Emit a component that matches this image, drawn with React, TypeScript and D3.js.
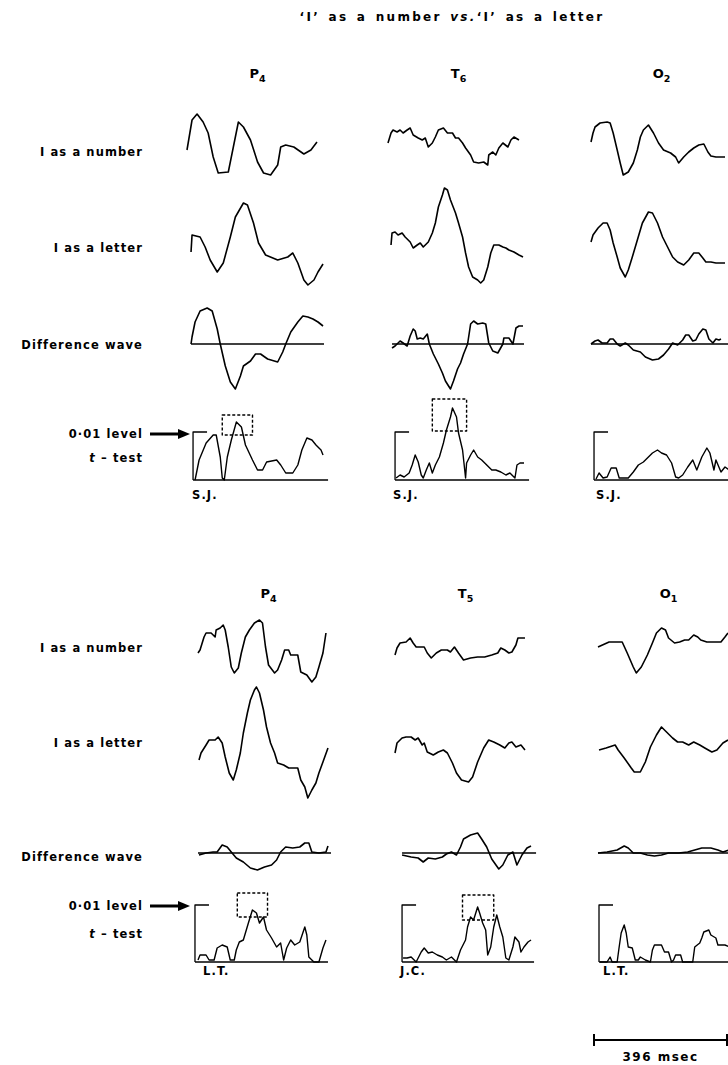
import * as d3 from 'd3';

// every trace covers one epoch; the scale bar under the figure is one epoch long
const EPOCH_MS = 396;

type Pt = [number, number]; // [msec, amplitude]

// ---- upper panel, subject S.J. ----
const p4NumberSJ: Pt[] = [[0,-2.5],[15,12.5],[30,15.5],[48,11.5],[63,6],[78,-6],[93,-14],[123,-13.5],[138,-1],[153,11.5],[168,9],[189,2.5],[210,-8.5],[228,-14],[249,-15],[270,-10],[279,-1],[294,0],[318,-1],[348,-4.5],[369,-2.5],[387,1.5]];
const p4LetterSJ: Pt[] = [[12,-7.5],[15,1],[39,0],[54,-5],[69,-11.5],[90,-17.5],[108,-13],[129,0],[144,10],[168,17],[180,16],[198,7],[213,-3],[234,-9],[270,-11.5],[300,-10],[315,-8],[330,-13],[348,-21.5],[360,-24],[378,-21.5],[390,-17.5],[405,-13.5]];
const p4DiffSJ: Pt[] = [[12,0],[15,3.5],[24,11],[39,16.5],[60,18],[75,16.5],[90,7.5],[99,0],[114,-11],[129,-19],[144,-22.5],[159,-16],[168,-11],[189,-8.5],[204,-5],[219,-5],[240,-7.5],[270,-9],[285,-4],[294,0],[309,6],[330,11],[345,14],[360,13.5],[375,12.5],[390,11],[405,9]];
const p4TtestSJ: Pt[] = [[24,0],[36,10],[57,18.5],[78,22.5],[87,22.5],[99,11.5],[105,1],[111,0],[120,11.5],[132,20],[147,29],[162,26.5],[174,17.5],[195,10],[210,5],[225,5],[237,9],[267,10],[279,7.5],[294,3.5],[315,3.5],[330,7.5],[342,15],[357,21],[372,20],[384,17.5],[399,15],[405,12.5]];

const t6NumberSJ: Pt[] = [[0,1],[9,6],[15,7.5],[27,6.5],[36,7.5],[45,6],[57,7.5],[66,8.5],[75,5],[90,3.5],[102,2.5],[111,3.5],[120,-1],[132,1],[141,4],[150,7.5],[165,8.5],[177,6],[192,6],[201,3.5],[210,3.5],[222,1],[231,-1.5],[246,-5],[255,-8.5],[270,-9],[285,-8.5],[297,-10],[300,-5],[312,-3.5],[321,-5],[330,-1.5],[342,1],[357,-1],[366,2.5],[375,4],[390,2.5]];
const t6LetterSJ: Pt[] = [[9,-4],[12,2],[21,2.5],[30,1],[42,2],[51,0],[66,-2.5],[75,-5.5],[87,-4],[96,-3],[105,-5],[120,-2.5],[132,2],[141,7],[150,15],[162,21],[168,24.5],[177,23.5],[186,18.5],[201,12],[210,7],[222,0],[231,-8],[240,-15],[252,-20],[267,-21.5],[276,-23],[285,-21.5],[297,-15],[306,-8],[315,-4],[330,-4],[342,-5],[351,-5.5],[360,-6.5],[375,-7.5],[390,-9],[402,-10]];
const t6DiffSJ: Pt[] = [[12,-2],[21,-1],[36,1.5],[45,0.5],[57,-1],[66,4],[75,7.5],[81,6.5],[87,2.5],[96,3],[105,2.5],[117,5],[123,0],[135,-5],[150,-10],[162,-14.5],[171,-18.5],[186,-22.5],[195,-18.5],[207,-12.5],[216,-9.5],[225,-5],[237,0],[246,10],[255,11.5],[267,10],[282,10.5],[291,10],[300,0.5],[312,-3.5],[327,-4.5],[342,0],[345,3],[360,3],[372,0],[381,8],[390,9],[402,9]];
const t6TtestSJ: Pt[] = [[24,1],[36,2.5],[48,1.5],[63,3.5],[72,7.5],[81,12.5],[90,9],[99,2.5],[105,1],[114,5],[123,8.5],[132,3.5],[141,7.5],[153,11.5],[165,18.5],[174,25],[186,31.5],[192,36],[204,31.5],[210,23.5],[222,15],[231,1],[234,8.5],[246,12.5],[255,15],[267,11.5],[279,10],[294,7.5],[309,5],[321,5],[336,4],[351,2.5],[363,3.5],[378,1],[384,7.5],[393,8.5],[405,8.5]];

const o2NumberSJ: Pt[] = [[0,1.5],[6,6],[12,9],[27,11],[48,11.5],[57,11],[66,6],[78,-2.5],[87,-9],[96,-15],[111,-13.5],[126,-9],[138,-2.5],[147,4],[156,7.5],[171,10],[186,6],[201,1],[216,-2.5],[237,-4],[252,-6],[261,-9],[276,-6],[291,-3.5],[306,-1.5],[321,0],[336,0.5],[348,-3.5],[357,-5.5],[372,-6],[390,-6],[399,-6]];
const o2LetterSJ: Pt[] = [[0,-2.5],[6,1],[21,4.5],[36,7],[48,7],[57,3.5],[66,-3],[78,-10],[87,-15.5],[102,-20],[111,-16.5],[123,-10],[138,-1.5],[153,7],[171,12.5],[183,12],[198,7],[213,0],[228,-5],[243,-10],[258,-12.5],[276,-14],[291,-11.5],[306,-8],[321,-8],[333,-10.5],[342,-12.5],[357,-12.5],[372,-13],[384,-13],[399,-13]];
const o2DiffSJ: Pt[] = [[0,0],[12,1.5],[21,2],[33,0.5],[48,0.5],[57,2.5],[66,2.5],[78,0],[87,-1],[102,0.5],[111,-0.5],[126,-3],[147,-4],[162,-6.5],[183,-8],[201,-7.5],[216,-5.5],[231,-2.5],[243,0.5],[258,-0.5],[273,2],[282,4.5],[291,4.5],[303,1.5],[312,2],[321,5],[333,7.5],[342,7],[351,2.5],[363,0.5],[372,2.5],[381,2],[387,2.5]];
const o2TtestSJ: Pt[] = [[15,0.5],[24,3.5],[36,1],[48,1.5],[60,6],[75,6],[84,1],[111,1],[126,4],[141,7.5],[156,9],[168,11],[183,13.5],[198,15],[210,13.5],[225,12.5],[240,8.5],[252,1.5],[261,1],[273,2.5],[288,6.5],[303,10],[315,5],[330,11.5],[345,16],[354,13.5],[366,5],[372,10],[387,4],[399,6.5],[411,5]];

// ---- lower panel, subjects L.T. and J.C. ----
const p4NumberLT: Pt[] = [[0,-1.5],[6,0],[18,6.5],[24,8.5],[39,8.5],[51,6.5],[54,10],[66,11],[75,12.5],[81,10],[90,1.5],[99,-8.5],[108,-11.5],[120,-9],[129,-1.5],[141,6.5],[153,10],[168,13.5],[183,15],[192,13.5],[201,1.5],[210,-7.5],[228,-11.5],[237,-10],[249,-5],[258,0],[270,0],[276,-2.5],[285,-2.5],[297,-2.5],[306,-11],[324,-12.5],[339,-16],[351,-13.5],[360,-8.5],[372,-1.5],[381,8.5]];
const p4LetterLT: Pt[] = [[3,-8.5],[9,-5],[24,-1],[33,1.5],[51,1.5],[60,3],[72,0],[81,-7],[93,-15],[105,-18.5],[114,-13.5],[126,-5],[135,5],[147,15],[156,21.5],[168,26.5],[174,28],[183,25],[195,16.5],[204,8],[216,0],[228,-5],[237,-10],[255,-11],[270,-12.5],[285,-12.5],[297,-12.5],[306,-18.5],[318,-22],[327,-27.5],[339,-23.5],[351,-20],[360,-15],[372,-9.5],[387,-2.5]];
const p4DiffLT: Pt[] = [[3,-1],[24,0],[45,0.5],[57,0.5],[72,4],[87,3],[99,0.5],[114,-2.5],[135,-4.5],[156,-7.5],[177,-8.5],[198,-7],[219,-6],[234,-3.5],[246,0.5],[261,3],[282,2.5],[303,3],[318,5],[330,5],[339,0.5],[360,0],[381,0.5],[387,3.5]];
const p4TtestLT: Pt[] = [[0,1],[6,3.5],[24,3.5],[33,1],[48,1],[57,7],[72,8.5],[87,7.5],[96,1],[108,1],[114,6],[123,10],[135,11],[150,19.5],[162,26],[174,24.5],[183,19.5],[195,22.5],[204,16],[219,12],[234,7.5],[246,9.5],[255,1],[264,7],[276,11],[288,8.5],[303,10],[318,17.5],[324,13.5],[330,2.5],[345,0],[360,0],[372,7],[381,11]];

const t5NumberJC: Pt[] = [[0,-2.5],[6,1],[15,3.5],[33,4],[45,6],[54,3.5],[63,1.5],[87,1.5],[96,-1.5],[108,-4],[123,-1.5],[138,0],[156,0],[165,-1],[177,1.5],[189,-1.5],[204,-5],[225,-4],[246,-3.5],[267,-3.5],[288,-2.5],[306,-1.5],[315,1],[327,0],[339,-1.5],[348,-1],[360,2.5],[366,6],[387,6]];
const t5LetterJC: Pt[] = [[0,-5],[6,0],[21,2.5],[33,3],[48,3],[60,1.5],[69,2.5],[81,-1],[87,0],[96,-4.5],[114,-6],[129,-4.5],[144,-3.5],[156,-5],[171,-10],[183,-15],[198,-18.5],[219,-19.5],[231,-17],[246,-9.5],[264,-2.5],[279,1.5],[294,0.5],[312,-1],[327,-2.5],[339,0],[348,0.5],[360,-2],[375,-1],[387,-3.5]];
const t5DiffJC: Pt[] = [[21,-1],[48,-2],[69,-2.5],[84,-4.5],[99,-2.5],[120,-3],[141,-2],[153,-0.5],[168,0.5],[183,-1],[195,3],[204,7],[225,9],[246,10],[258,7],[273,3],[288,-3],[309,-8],[321,-6],[336,-1],[351,0.5],[363,-6],[378,-1],[393,2.5],[405,3.5]];
const t5TtestJC: Pt[] = [[24,2],[36,2],[48,2.5],[63,0],[78,5],[87,7],[99,4.5],[111,5],[126,3.5],[141,2.5],[153,1],[168,2.5],[183,0],[195,6],[210,11],[216,17.5],[225,22.5],[234,21],[246,27.5],[252,24.5],[261,19.5],[270,16],[276,3.5],[285,7.5],[294,17.5],[303,23.5],[312,17.5],[321,12.5],[330,2],[339,1],[351,7.5],[357,12.5],[369,10],[375,5],[384,7.5],[396,10],[405,11]];

const o1NumberLT: Pt[] = [[0,1.5],[33,4],[72,4],[87,-1.5],[105,-8.5],[114,-11.5],[129,-8.5],[147,-2.5],[162,3.5],[174,8.5],[189,11],[201,10],[210,6],[228,3.5],[243,4],[258,5],[270,5],[285,7.5],[297,6.5],[306,5],[324,4],[345,4],[366,4],[378,6.5],[387,8.5]];
const o1LetterLT: Pt[] = [[3,-3.5],[24,-2.5],[51,-1],[60,-3.5],[78,-7.5],[99,-12.5],[108,-14.5],[126,-14.5],[141,-9.5],[156,-2],[174,4],[189,8],[204,5.5],[222,2.5],[237,0.5],[252,0.5],[270,-1],[285,0.5],[303,-1],[318,-2.5],[339,-4.5],[354,-3.5],[372,0],[387,1.5]];
const o1DiffLT: Pt[] = [[0,0],[27,0.5],[57,1.5],[78,3.5],[90,2.5],[105,0],[126,0],[147,-1],[168,-1.5],[189,-1],[210,0],[240,0],[267,0.5],[288,1.5],[309,2.5],[336,2.5],[357,1.5],[372,0.5],[390,1.5]];
const o1TtestLT: Pt[] = [[6,0],[27,0],[36,2.5],[42,0],[57,0],[63,7.5],[69,14.5],[78,18.5],[84,14.5],[90,7.5],[102,7],[111,1],[120,1],[126,2.5],[141,1],[156,0],[162,6],[168,8.5],[189,8.5],[198,5],[210,5],[219,0],[225,1],[231,3.5],[246,3.5],[252,0],[282,0],[288,7.5],[303,9.5],[309,12],[315,15],[330,16],[336,13.5],[351,12],[357,8.5],[378,8.5],[393,7.5],[396,3.5]];

// significant windows (dashed boxes): [from ms, to ms, low t, high t]
const boxesTop = [[105, 195, 22.5, 32.5], [132, 234, 24.5, 40.5], null];
const boxesBottom = [[117, 207, 22.5, 34.5], [201, 294, 21, 33.5], null];
// the 0.01 significance level in each panel's t units
const levelTop = 24;
const levelBottom = 28.5;

const electrodesTop = [['P', '4'], ['T', '6'], ['O', '2']];
const electrodesBottom = [['P', '4'], ['T', '5'], ['O', '1']];
const subjectsTop = ['S.J.', 'S.J.', 'S.J.'];
const subjectsBottom = ['L.T.', 'J.C.', 'L.T.'];

const panels = [
  {
    electrodes: electrodesTop,
    subjects: subjectsTop,
    traces: [
      [p4NumberSJ, p4LetterSJ, p4DiffSJ, p4TtestSJ],
      [t6NumberSJ, t6LetterSJ, t6DiffSJ, t6TtestSJ],
      [o2NumberSJ, o2LetterSJ, o2DiffSJ, o2TtestSJ],
    ],
    boxes: boxesTop,
    level: levelTop,
    // layout
    x0: [187, 388, 591],
    diffSpan: [[12, 408], [12, 405], [0, 411]],
    tSpan: [[18, 420], [21, 420], [9, 411]],
    yHead: 78,
    yNumber: 145,
    yLetter: 237,
    yDiff: 344,
    yT: 480,
    labelY: { number: 156, letter: 252, diff: 349, level: 438, t: 462, subj: 499 },
    arrowY: 434,
  },
  {
    electrodes: electrodesBottom,
    subjects: subjectsBottom,
    traces: [
      [p4NumberLT, p4LetterLT, p4DiffLT, p4TtestLT],
      [t5NumberJC, t5LetterJC, t5DiffJC, t5TtestJC],
      [o1NumberLT, o1LetterLT, o1DiffLT, o1TtestLT],
    ],
    boxes: boxesBottom,
    level: levelBottom,
    x0: [198, 395, 598],
    diffSpan: [[0, 396], [21, 420], [0, 390]],
    tSpan: [[-9, 387], [21, 414], [3, 399]],
    yHead: 598,
    yNumber: 650,
    yLetter: 743,
    yDiff: 853,
    yT: 962,
    labelY: { number: 652, letter: 747, diff: 861, level: 910, t: 938, subj: 975 },
    arrowY: 906,
  },
];

const EPOCH_PX = 133;
const PX_PER_UNIT = 2;
const FONT = '"DejaVu Sans", sans-serif';

function Panel({ p }: { p: (typeof panels)[number] }) {
  const labelStyle = { fontFamily: FONT, fontWeight: 700, fontSize: 11.5, letterSpacing: 1.1 };
  return (
    <g>
      {/* row labels */}
      <g style={labelStyle} textAnchor="end">
        <text x={143} y={p.labelY.number}>I as a number</text>
        <text x={143} y={p.labelY.letter}>I as a letter</text>
        <text x={143} y={p.labelY.diff}>Difference wave</text>
        <text x={143} y={p.labelY.level}>0·01 level</text>
        <text x={143} y={p.labelY.t}>
          <tspan fontStyle="italic">t</tspan> – test
        </text>
      </g>
      <line x1={150} x2={180} y1={p.arrowY} y2={p.arrowY} stroke="#000" strokeWidth={3} />
      <path d={`M178,${p.arrowY - 5}L190,${p.arrowY}L178,${p.arrowY + 5}Z`} fill="#000" />

      {p.traces.map((tr, ci) => {
        const x = d3.scaleLinear().domain([0, EPOCH_MS]).range([p.x0[ci], p.x0[ci] + EPOCH_PX]);
        const amp = (zero: number) =>
          d3.scaleLinear().domain([0, 1]).range([zero, zero - PX_PER_UNIT]);
        const yN = amp(p.yNumber);
        const yL = amp(p.yLetter);
        const yD = amp(p.yDiff);
        const yT = amp(p.yT);
        const line = (ys: d3.ScaleLinear<number, number>) =>
          d3.line<Pt>().x((d) => x(d[0])).y((d) => ys(d[1]));
        const [num, let_, diff, tt] = tr;
        const box = p.boxes[ci];
        const bx = x(p.tSpan[ci][0]);
        const [eName, eSub] = p.electrodes[ci];
        const headX = x(EPOCH_MS / 2) + 4;
        return (
          <g key={ci}>
            <text x={headX} y={p.yHead} textAnchor="middle" style={{ fontFamily: FONT, fontWeight: 700, fontSize: 13 }}>
              {eName}
              <tspan dy={4} fontSize={9.5}>{eSub}</tspan>
            </text>
            <g fill="none" stroke="#000" strokeLinejoin="round">
              <path d={line(yN)(num) ?? ''} strokeWidth={1.6} />
              <path d={line(yL)(let_) ?? ''} strokeWidth={1.6} />
              <line x1={x(p.diffSpan[ci][0])} x2={x(p.diffSpan[ci][1])} y1={yD(0)} y2={yD(0)} strokeWidth={1.3} />
              <path d={line(yD)(diff) ?? ''} strokeWidth={1.6} />
              <line x1={bx} x2={x(p.tSpan[ci][1])} y1={yT(0)} y2={yT(0)} strokeWidth={1.3} />
              <path d={`M${bx},${yT(0)}V${yT(p.level)}h14`} strokeWidth={1.3} />
              <path d={line(yT)(tt) ?? ''} strokeWidth={1.4} />
              {box && (
                <rect
                  x={x(box[0])}
                  y={yT(box[3])}
                  width={x(box[1]) - x(box[0])}
                  height={yT(box[2]) - yT(box[3])}
                  strokeWidth={1.4}
                  strokeDasharray="3,2"
                />
              )}
            </g>
            <text x={p.x0[ci] + 5} y={p.labelY.subj} style={labelStyle}>
              {p.subjects[ci]}
            </text>
          </g>
        );
      })}
    </g>
  );
}

export default function App() {
  const bar = d3.scaleLinear().domain([0, EPOCH_MS]).range([594, 594 + EPOCH_PX]);
  return (
    <>
      <style>{'body{margin:0}'}</style>
      <svg width={728} height={1065} viewBox="0 0 728 1065" style={{ display: 'block', background: '#fff' }}>
        <text
          x={452}
          y={21}
          textAnchor="middle"
          style={{ fontFamily: FONT, fontWeight: 700, fontSize: 12, letterSpacing: 2.3, wordSpacing: 2 }}
        >
          ‘I’ as a number <tspan fontStyle="italic">vs.</tspan>‘I’ as a letter
        </text>
        {panels.map((p, i) => (
          <Panel key={i} p={p} />
        ))}
        {/* time scale */}
        <g stroke="#000">
          <line x1={bar(0)} x2={bar(EPOCH_MS)} y1={1040} y2={1040} strokeWidth={2.2} />
          <line x1={bar(0)} x2={bar(0)} y1={1034} y2={1046} strokeWidth={2} />
          <line x1={bar(EPOCH_MS)} x2={bar(EPOCH_MS)} y1={1034} y2={1046} strokeWidth={2} />
        </g>
        <text x={bar(EPOCH_MS / 2)} y={1061} textAnchor="middle" style={{ fontFamily: FONT, fontWeight: 700, fontSize: 12, letterSpacing: 1.5 }}>
          396 msec
        </text>
      </svg>
    </>
  );
}
